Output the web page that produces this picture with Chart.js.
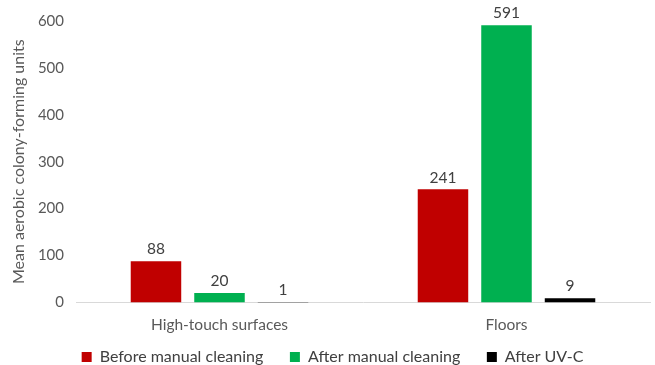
<!DOCTYPE html>
<html><head><meta charset="utf-8">
<script src="https://cdn.jsdelivr.net/npm/chart.js@4/dist/chart.umd.min.js"></script>
<style>html,body{margin:0;padding:0;background:#fff}#w{width:655px;height:365px}</style>
</head><body><div id="w"><canvas id="c"></canvas></div>
<script>
const categories = ["High-touch surfaces", "Floors"];
const seriesNames = ["Before manual cleaning", "After manual cleaning", "After UV-C"];
const beforeManual = [88, 241];
const afterManual = [20, 591];
const afterUVC = [1, 9];
const yTicks = [0, 100, 200, 300, 400, 500, 600];
const colors = ["#C00000", "#00B050", "#000000"];
const FONT = "Lato, 'Open Sans', sans-serif";

const labelPlugin = {
  id: "vals",
  afterLayout(chart) {
    if (chart.legend) { chart.legend.left += 6; chart.legend.right += 6; }
  },
  afterDatasetsDraw(chart) {
    const ctx = chart.ctx;
    ctx.save();
    ctx.font = "15.5px " + FONT;
    ctx.fillStyle = "#404040";
    ctx.textAlign = "center";
    ctx.textBaseline = "bottom";
    chart.data.datasets.forEach((ds, i) => {
      chart.getDatasetMeta(i).data.forEach((bar, j) => {
        ctx.fillText(String(ds.data[j]), bar.x, bar.y - 4);
      });
    });
    ctx.restore();
  }
};

new Chart(document.getElementById("c"), {
  type: "bar",
  data: {
    labels: categories,
    datasets: [
      { label: seriesNames[0], data: beforeManual, backgroundColor: colors[0] },
      { label: seriesNames[1], data: afterManual, backgroundColor: colors[1] },
      { label: seriesNames[2], data: afterUVC, backgroundColor: colors[2] }
    ]
  },
  options: {
    responsive: true, maintainAspectRatio: false, animation: false,
    layout: { padding: { top: 20, right: 5, left: 3, bottom: -10 } },
    datasets: { bar: { categoryPercentage: 0.664, barPercentage: 0.795 } },
    plugins: {
      legend: {
        position: "bottom",
        labels: {
          boxWidth: 10, boxHeight: 10, padding: 2, color: "#404040",
          font: { family: FONT, size: 16 },
          generateLabels(chart) {
            const items = Chart.defaults.plugins.legend.labels.generateLabels(chart);
            items.forEach((it, i) => { if (i < items.length - 1) it.text = it.text + "      "; });
            return items;
          }
        }
      },
      tooltip: { enabled: false }
    },
    scales: {
      x: {
        grid: { display: false, drawTicks: false },
        border: { display: true, color: "#D9D9D9", width: 1 },
        ticks: { color: "#595959", padding: 13, font: { family: FONT, size: 15.5 } }
      },
      y: {
        min: 0, max: 600,
        afterBuildTicks(ax) { ax.ticks = yTicks.map(v => ({ value: v })); },
        afterFit(ax) { ax.width = 73; },
        grid: { display: false, drawTicks: false },
        border: { display: false },
        ticks: { color: "#595959", padding: 12, font: { family: FONT, size: 15 } },
        title: { display: true, text: "Mean aerobic colony-forming units", color: "#595959", padding: { top: 6, bottom: 0 }, font: { family: FONT, size: 16 } }
      }
    }
  },
  plugins: [labelPlugin]
});
</script></body></html>
